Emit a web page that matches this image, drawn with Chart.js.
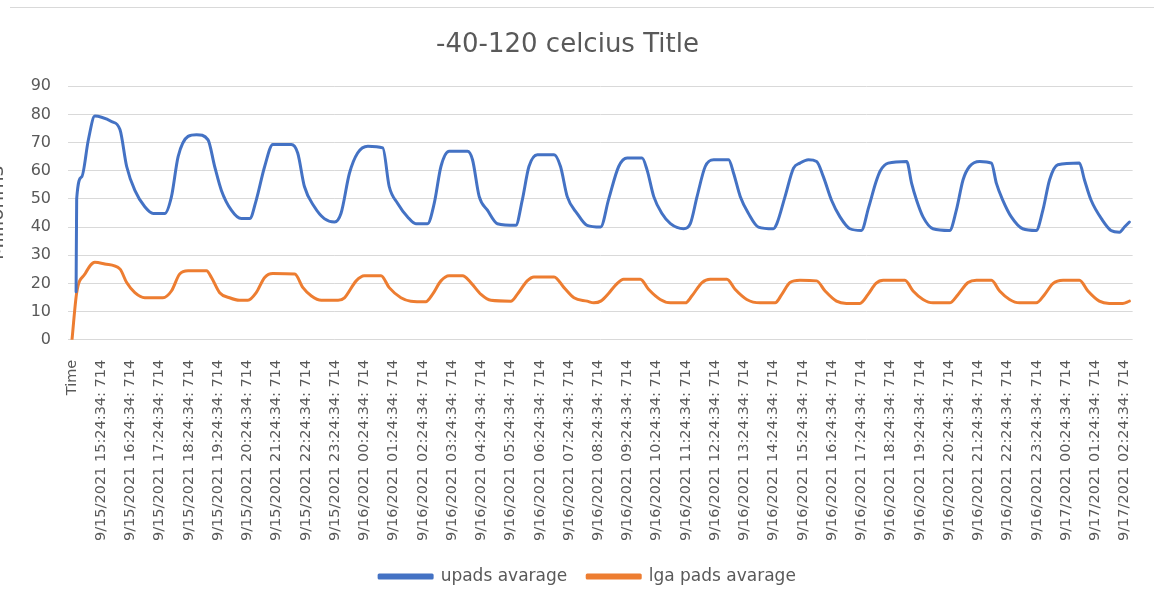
<!DOCTYPE html>
<html>
<head>
<meta charset="utf-8">
<title>-40-120 celcius Title</title>
<script src="https://cdn.jsdelivr.net/npm/chart.js@4/dist/chart.umd.min.js"></script>
<style>
  html, body { margin: 0; padding: 0; background: #ffffff; }
  #wrap { position: relative; width: 1154px; height: 602px; overflow: hidden; }
  canvas { display: block; }
</style>
</head>
<body>
<div id="wrap"><canvas id="chart" width="1154" height="602"></canvas></div>
<script>
// Hourly category labels along the time axis (first entry is the column header)
const tickLabels = [
  "Time",
  "9/15/2021 15:24:34: 714", "9/15/2021 16:24:34: 714", "9/15/2021 17:24:34: 714",
  "9/15/2021 18:24:34: 714", "9/15/2021 19:24:34: 714", "9/15/2021 20:24:34: 714",
  "9/15/2021 21:24:34: 714", "9/15/2021 22:24:34: 714", "9/15/2021 23:24:34: 714",
  "9/16/2021 00:24:34: 714", "9/16/2021 01:24:34: 714", "9/16/2021 02:24:34: 714",
  "9/16/2021 03:24:34: 714", "9/16/2021 04:24:34: 714", "9/16/2021 05:24:34: 714",
  "9/16/2021 06:24:34: 714", "9/16/2021 07:24:34: 714", "9/16/2021 08:24:34: 714",
  "9/16/2021 09:24:34: 714", "9/16/2021 10:24:34: 714", "9/16/2021 11:24:34: 714",
  "9/16/2021 12:24:34: 714", "9/16/2021 13:24:34: 714", "9/16/2021 14:24:34: 714",
  "9/16/2021 15:24:34: 714", "9/16/2021 16:24:34: 714", "9/16/2021 17:24:34: 714",
  "9/16/2021 18:24:34: 714", "9/16/2021 19:24:34: 714", "9/16/2021 20:24:34: 714",
  "9/16/2021 21:24:34: 714", "9/16/2021 22:24:34: 714", "9/16/2021 23:24:34: 714",
  "9/17/2021 00:24:34: 714", "9/17/2021 01:24:34: 714", "9/17/2021 02:24:34: 714"
];

// upads average: sample time (hours after the header row) and resistance
const upadsHours = [
  0.14, 0.16, 0.33, 0.56, 0.78, 1.01, 1.35, 1.64, 1.87, 2.15, 2.49, 2.78, 3.17, 3.40, 3.63, 3.97,
  4.26, 4.65, 4.88, 5.11, 5.45, 5.79, 6.08, 6.30, 6.59, 6.87, 7.50, 7.72, 7.95, 8.29, 8.63, 8.98,
  9.20, 9.49, 9.77, 10.12, 10.63, 10.85, 11.14, 11.48, 11.76, 12.16, 12.39, 12.62, 12.90, 13.53,
  13.70, 13.93, 14.21, 14.55, 15.18, 15.40, 15.63, 15.92, 16.49, 16.71, 16.94, 17.28, 17.62, 18.08,
  18.36, 18.70, 18.99, 19.50, 19.67, 19.90, 20.18, 20.47, 20.92, 21.15, 21.38, 21.66, 21.95, 22.46,
  22.63, 22.86, 23.14, 23.48, 23.99, 24.11, 24.39, 24.68, 24.90, 25.19, 25.47, 25.70, 25.98, 26.27,
  26.61, 27.00, 27.25, 27.50, 27.65, 27.92, 28.55, 28.72, 28.89, 29.11, 29.45, 30.02, 30.25, 30.48,
  30.70, 31.05, 31.45, 31.62, 31.84, 32.13, 32.52, 32.98, 33.21, 33.44, 33.72, 34.46, 34.63, 34.86,
  35.25, 35.54, 35.83, 36.00, 36.17
];
const upadsValues = [
  17, 50, 57.8, 71, 79.4, 79, 77.5, 74.6, 61.5, 53, 47.2, 44.8, 44.8, 50.7, 65, 72.2,
  72.8, 71, 61.5, 53, 46, 43, 43, 49.5, 61.5, 69.3, 69.3, 66.3, 54.4, 47.2, 43, 41.8,
  44.8, 59.1, 66.3, 68.7, 68.1, 54.4, 48.4, 43.6, 41.2, 41.2, 48.4, 61.5, 66.9, 66.9,
  63.9, 50.8, 46, 41.2, 40.6, 49.5, 61.5, 65.7, 65.7, 61.5, 50.8, 44.8, 40.6, 40,
  50, 61.5, 64.5, 64.5, 60.3, 50.8, 44.8, 41.2, 39.4, 41.2, 50.8, 61.5, 63.9, 63.9,
  59.1, 50.8, 44.8, 40, 39.4, 41.2, 50.8, 60.9, 62.7, 63.9, 63.3, 57.9, 49.5, 43.6,
  39.4, 38.8, 47, 56, 60, 62.7, 63.3, 55.5, 49.5, 43.6, 39.4, 38.8, 46, 56.8,
  61.5, 63.3, 62.7, 55.5, 49.5, 43.6, 39.4, 38.8, 46, 56.8, 62.1, 62.7, 56.8, 49.5,
  42.4, 38.8, 38.2, 40, 41.8
];

// lga pads average: sample time (hours after the header row) and resistance
const lgaHours = [
  0, 0.16, 0.44, 0.78, 1.12, 1.64, 1.87, 2.15, 2.49, 3.11, 3.40, 3.68, 3.97, 4.60, 4.77, 5.05,
  5.39, 5.73, 6.02, 6.30, 6.59, 6.87, 7.62, 7.90, 8.19, 8.53, 9.10, 9.32, 9.72, 10.00, 10.57, 10.85,
  11.25, 11.59, 12.10, 12.33, 12.62, 12.90, 13.36, 13.64, 13.99, 14.33, 15.01, 15.23, 15.57, 15.80,
  16.49, 16.83, 17.17, 17.62, 17.85, 18.10, 18.36, 18.60, 18.87, 19.44, 19.72, 20.12, 20.47, 20.98,
  21.20, 21.55, 21.83, 22.40, 22.68, 23.08, 23.54, 24.05, 24.28, 24.56, 24.90, 25.47, 25.76, 26.15,
  26.49, 26.95, 27.23, 27.50, 27.75, 28.49, 28.77, 29.11, 29.45, 30.02, 30.31, 30.65, 30.94, 31.45,
  31.73, 32.07, 32.41, 32.98, 33.27, 33.55, 33.90, 34.46, 34.75, 35.14, 35.48, 35.94, 36.17
];
const lgaValues = [
  0, 16.7, 23.3, 27.5, 26.9, 25.1, 20.3, 16.7, 14.9, 14.9, 17.3, 23.3, 24.5, 24.5, 22.1, 16.7,
  14.9, 14, 14, 16.7, 22.1, 23.5, 23.3, 18.5, 15.5, 14, 14, 14.9, 20.9, 22.7, 22.7, 18.5,
  14.9, 13.7, 13.5, 16.1, 20.9, 22.7, 22.7, 20.3, 16.1, 14, 13.7, 16.1, 20.9, 22.3,
  22.3, 18.5, 14.9, 13.7, 13.1, 13.8, 16.5, 19.5, 21.5, 21.5, 17.9, 14.3, 13.1, 13.1,
  15.5, 20.3, 21.5, 21.5, 17.9, 14.3, 13.1, 13.1, 16.1, 20.3, 21.1, 20.9, 17.3, 13.7,
  12.9, 12.9, 16.1, 20, 21.1, 21.1, 17.3, 14.3, 13.1, 13.1, 16.1, 20.3, 21.1, 21.1,
  17.3, 14.3, 13.1, 13.1, 16.1, 19.9, 21.1, 21.1, 17.3, 13.7, 12.9, 12.9, 13.7
];

const toPoints = (xs, ys) => xs.map((x, i) => ({ x: x, y: ys[i] }));

const TEXT = '#595959';
const FONT = 'DejaVu Sans';

// nudges the bottom legend right of the full-width centre and slightly up
const legendShift = {
  id: 'legendShift',
  afterLayout(chart) {
    const lg = chart.legend;
    if (lg) {
      lg.left += 20; lg.right += 20;
      lg.top -= 5; lg.bottom -= 5;
    }
  }
};

// thin outer frame line along the top edge of the chart
const frame = {
  id: 'frame',
  beforeDraw(chart) {
    const ctx = chart.ctx;
    ctx.save();
    ctx.strokeStyle = '#d9d9d9';
    ctx.lineWidth = 1;
    ctx.beginPath();
    ctx.moveTo(10, 7.5);
    ctx.lineTo(chart.width, 7.5);
    ctx.stroke();
    ctx.restore();
  }
};

new Chart(document.getElementById('chart'), {
  type: 'line',
  data: {
    datasets: [
      {
        label: 'upads avarage',
        data: toPoints(upadsHours, upadsValues),
        borderColor: '#4472C4',
        backgroundColor: '#4472C4',
        borderWidth: 3,
        pointRadius: 0,
        cubicInterpolationMode: 'monotone',
        borderJoinStyle: 'round',
        borderCapStyle: 'round',
        fill: false
      },
      {
        label: 'lga pads avarage',
        data: toPoints(lgaHours, lgaValues),
        borderColor: '#ED7D31',
        backgroundColor: '#ED7D31',
        borderWidth: 3,
        pointRadius: 0,
        cubicInterpolationMode: 'monotone',
        borderJoinStyle: 'round',
        borderCapStyle: 'round',
        fill: false
      }
    ]
  },
  options: {
    responsive: false,
    animation: false,
    layout: { padding: { left: 0, right: 19, top: 0, bottom: 2 } },
    plugins: {
      tooltip: { enabled: false },
      title: {
        display: true,
        text: '-40-120 celcius Title',
        color: TEXT,
        font: { family: FONT, size: 26, weight: 'normal' },
        padding: { top: 30, bottom: 25 }
      },
      legend: {
        position: 'bottom',
        labels: {
          color: TEXT,
          font: { family: FONT, size: 17 },
          boxWidth: 53,
          boxHeight: 3,
          padding: 20
        }
      }
    },
    scales: {
      x: {
        type: 'linear',
        min: -0.137,
        max: 36.28,
        grid: { display: false },
        border: { display: false },
        afterBuildTicks(axis) {
          axis.ticks = tickLabels.map((_, i) => ({ value: i }));
        },
        ticks: {
          autoSkip: false,
          minRotation: 90,
          maxRotation: 90,
          padding: 12,
          color: TEXT,
          font: { family: FONT, size: 14.5 },
          callback: (value) => tickLabels[Math.round(value)]
        }
      },
      y: {
        min: 0,
        max: 90,
        grid: { color: '#d9d9d9', lineWidth: 1, drawTicks: false },
        border: { display: false },
        ticks: {
          stepSize: 10,
          padding: 17,
          color: TEXT,
          font: { family: FONT, size: 16 }
        },
        title: {
          display: true,
          text: 'Milliohms',
          color: TEXT,
          font: { family: FONT, size: 20 },
          padding: { top: -14, bottom: 0 }
        },
        afterFit(scale) { scale.width = 68; }
      }
    }
  },
  plugins: [legendShift, frame]
});
</script>
</body>
</html>
